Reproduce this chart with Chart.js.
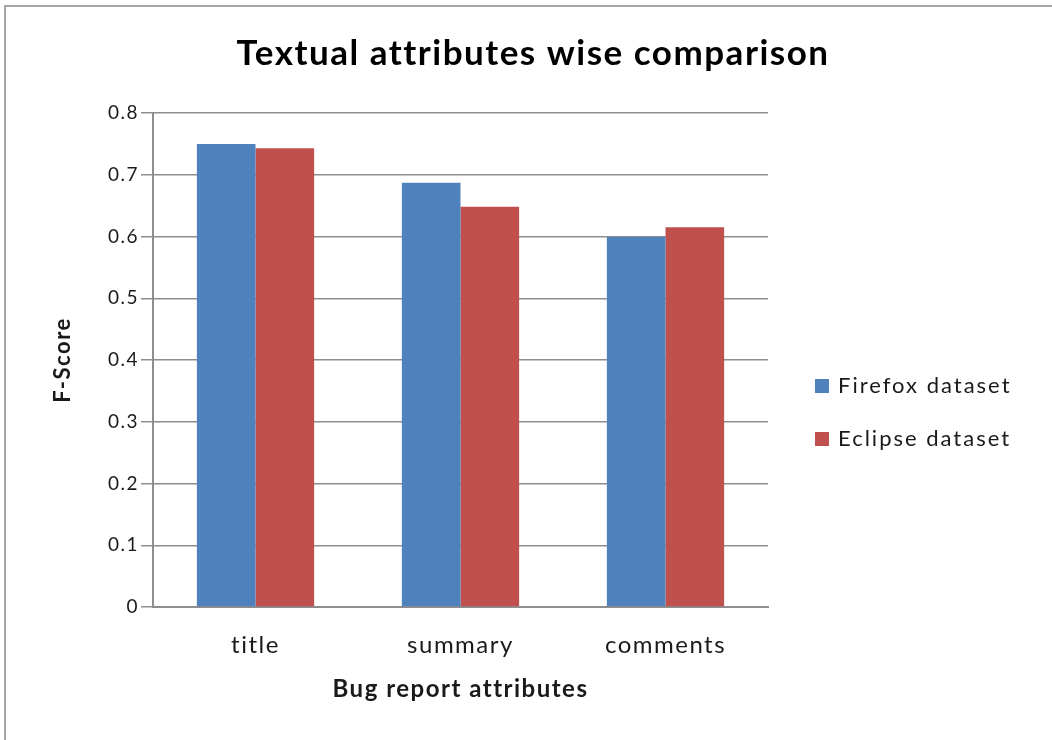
<!DOCTYPE html>
<html>
<head>
<meta charset="utf-8">
<title>Textual attributes wise comparison</title>
<script src="https://cdn.jsdelivr.net/npm/chart.js@4"></script>
<style>
  html, body { margin: 0; padding: 0; background: #fff; overflow: hidden; }
  #wrap { position: relative; width: 1052px; height: 740px; }
  #frame {
    position: absolute; left: 4px; top: 5px; width: 1100px; height: 800px;
    border-top: 2px solid #a6a6a6; border-left: 2px solid #a6a6a6;
    pointer-events: none;
  }
</style>
</head>
<body>
<div id="wrap">
  <canvas id="myChart" width="1052" height="740"></canvas>
  <div id="frame"></div>
</div>
<script>
const categories = ['title', 'summary', 'comments'];
const firefoxScores = [0.750, 0.687, 0.599];
const eclipseScores = [0.743, 0.648, 0.615];
const yTicks = [0, 0.1, 0.2, 0.3, 0.4, 0.5, 0.6, 0.7, 0.8];

const FONT = 'Lato, "Open Sans", sans-serif';

// the original text is spaced out a little
const spacing = {
  id: 'spacing',
  beforeDraw(chart) {
    chart.ctx.letterSpacing = '1.5px';
  }
};

// legend drawn to the right of the plot, like the Excel original
const sideLegend = {
  id: 'sideLegend',
  afterDraw(chart) {
    const ctx = chart.ctx;
    const area = chart.chartArea;
    const x = area.right + 47;
    const mid = (area.top + area.bottom) / 2;
    ctx.save();
    ctx.font = '22px ' + FONT;
    ctx.letterSpacing = '2px';
    ctx.textBaseline = 'middle';
    ctx.textAlign = 'left';
    chart.data.datasets.forEach((ds, i) => {
      const y = mid + 26 + i * 53;
      ctx.fillStyle = ds.backgroundColor;
      ctx.fillRect(x, y - 7, 14, 14);
      ctx.fillStyle = '#1a1a1a';
      ctx.fillText(ds.label, x + 23, y);
    });
    ctx.restore();
  }
};

const configureData = () => {
  return {
    labels: categories,
    datasets: [{
      label: 'Firefox dataset',
      data: firefoxScores,
      backgroundColor: '#4F81BD'
    }, {
      label: 'Eclipse dataset',
      data: eclipseScores,
      backgroundColor: '#C0504D'
    }]
  }
};

const configureChart = (data) => {
  return {
    type: 'bar',
    data: data,
    plugins: [spacing, sideLegend],
    options: {
      responsive: false,
      animation: false,
      layout: {
        padding: { left: 14, right: 0, top: 0, bottom: 0 }
      },
      datasets: {
        bar: { categoryPercentage: 0.572, barPercentage: 1.0 }
      },
      scales: {
        x: {
          grid: { display: false, drawTicks: false },
          border: { display: true, color: '#8e8e8e', width: 2 },
          ticks: { color: '#1a1a1a', font: { family: FONT, size: 24 }, padding: 24 },
          title: {
            display: true,
            text: 'Bug report attributes',
            color: '#1a1a1a',
            font: { family: FONT, size: 24, weight: 'bold' },
            padding: { top: 0, bottom: 36 }
          },
          afterFit: (scale) => { scale.height = 133; }
        },
        y: {
          min: 0,
          max: 0.8,
          afterBuildTicks: (scale) => { scale.ticks = yTicks.map(v => ({ value: v })); },
          grid: { color: '#8e8e8e', lineWidth: 1.5, tickLength: 12, drawTicks: true },
          border: { display: true, color: '#8e8e8e', width: 2 },
          ticks: {
            color: '#1a1a1a',
            font: { family: FONT, size: 19 },
            padding: 2,
            callback: (v) => v === 0 ? '0' : v.toFixed(1)
          },
          title: {
            display: true,
            text: 'F-Score',
            color: '#1a1a1a',
            font: { family: FONT, size: 22, weight: 'bold' },
            padding: { top: 36, bottom: 0 }
          },
          afterFit: (scale) => { scale.width = 139; }
        },
        // empty axis that keeps room on the right for the legend
        side: {
          type: 'linear',
          position: 'right',
          display: true,
          grid: { display: false },
          border: { display: false },
          ticks: { display: false },
          afterFit: (scale) => { scale.width = 284; }
        }
      },
      plugins: {
        legend: { display: false },
        tooltip: { enabled: false },
        title: {
          display: true,
          text: 'Textual attributes wise comparison',
          color: '#000',
          font: { family: FONT, size: 35, weight: 'bold' },
          padding: { top: 33, bottom: 38 }
        }
      }
    }
  }
};

const renderChart = () => {
  const ctx = document.getElementById('myChart');
  const data = configureData();
  const chartConfigurations = configureChart(data);
  const myChart = new Chart(ctx, chartConfigurations);
};

window.onload = () => {
  renderChart();
};
</script>
</body>
</html>
